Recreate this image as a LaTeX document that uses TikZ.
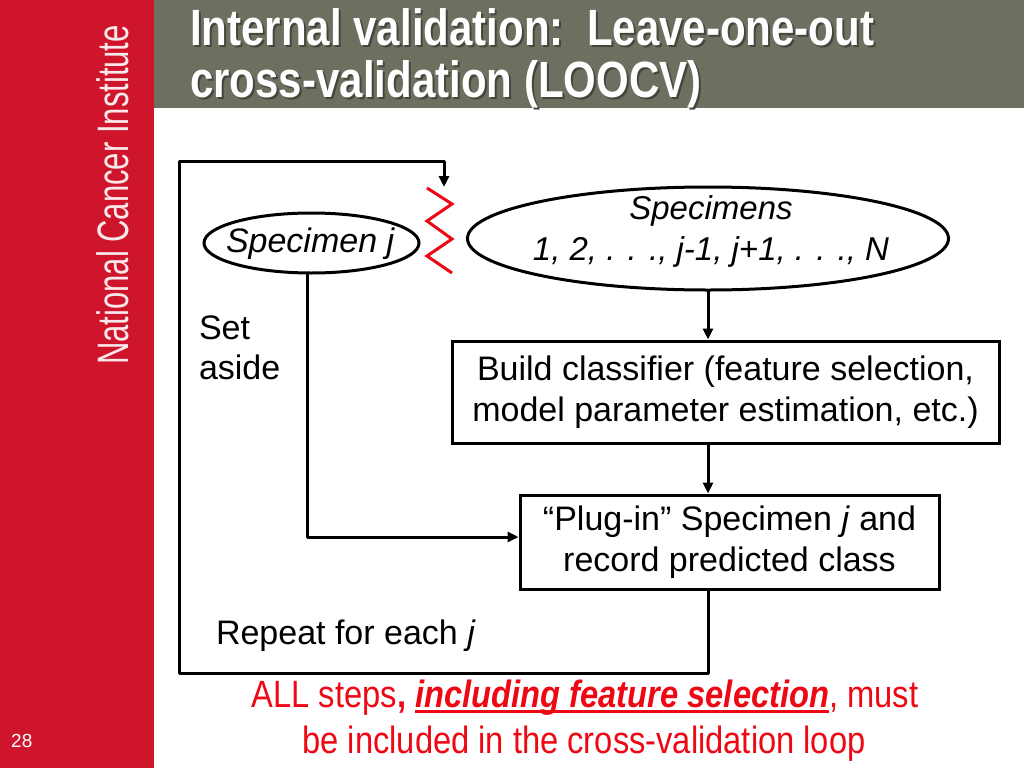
\documentclass[tikz,border=0pt]{standalone}
\usepackage{fontspec}
\setmainfont{Liberation Sans}
\usetikzlibrary{shapes.geometric,arrows.meta}
\definecolor{ncired}{HTML}{CE152C}
\definecolor{titlegray}{HTML}{6E6F60}
\definecolor{shadowgray}{HTML}{45463B}
\definecolor{redtext}{HTML}{EE0814}
\newcommand{\fsz}[2]{\fontsize{#1}{#2}\selectfont}
\newlength{\ulwd}
\newcommand{\thickul}[1]{\settowidth{\ulwd}{#1}\rlap{\rule[-6pt]{\ulwd}{3pt}}#1}
\tikzset{
  x=1pt,y=-1pt,
  line/.style={black,line width=3pt,line cap=round,line join=round},
  arrowline/.style={line,-{Triangle[length=11pt,width=10pt]}},
  oval/.style={ellipse,draw=black,line width=3pt,inner sep=0pt,fill=white},
  box/.style={rectangle,draw=black,line width=3pt,inner sep=0pt,fill=white,align=center,font=\fsz{34}{41}},
  plain/.style={inner sep=0pt,outer sep=0pt,font=\fsz{34}{40},align=left},
  titletext/.style={inner sep=0pt,anchor=west,align=left,font=\fsz{51}{52}\bfseries,xscale=0.824,transform shape},
  redline/.style={inner sep=0pt,anchor=base,text=redtext,font=\fsz{38}{44},xscale=0.86,transform shape},
}
\begin{document}
\begin{tikzpicture}
\useasboundingbox (0,0) rectangle (1024,768);
\fill[white] (0,0) rectangle (1024,768);
\fill[ncired] (0,0) rectangle (154,768);
\fill[titlegray] (154,0) rectangle (1024,108);
\node[titletext,text=shadowgray] (titleshadow) at (192,60) {Internal validation:\ \ Leave-one-out\\cross-validation (LOOCV)};
\node[titletext,text=white] (title) at (190,58) {Internal validation:\ \ Leave-one-out\\cross-validation (LOOCV)};
\node[inner sep=0pt,text=white!90!ncired,rotate=90,font=\fsz{44}{44},xscale=0.705,transform shape] (nci) at (113,195) {National Cancer Institute};
\node[inner sep=0pt,text=white,font=\fsz{19}{19},anchor=base west] (page) at (11,747) {28};

\node[oval,minimum width=215pt,minimum height=60pt] (spj) at (311.5,243) {};
\node[plain,anchor=base west,font=\fsz{34}{40}\itshape] (spjtext) at (226,252) {Specimen j};
\node[oval,minimum width=481pt,minimum height=103pt] (sps) at (708,238.5) {};
\node[inner sep=0pt,align=center,font=\fsz{33}{41}\itshape] (spstext) at (711,231) {Specimens\\1, 2, . . ., j-1, j+1, . . ., N};
\node[box,minimum width=547pt,minimum height=102pt] (build) at (725.5,392) {Build classifier (feature selection,\\model parameter estimation, etc.)};
\node[box,minimum width=419pt,minimum height=94pt] (plug) at (729.5,542) {“Plug-in” Specimen \textit{j} and\\record predicted class};
\node[plain,anchor=north west] (aside) at (199,316) {Set\\aside};
\node[plain,anchor=base west] (repeat) at (216,644) {Repeat for each \textit{j}};

\coordinate (loopend) at (444,187);
\coordinate (loopbl) at (179,673);
\coordinate (looptl) at (179,161);
\coordinate (looptr) at (444,161);
\coordinate (loopbr) at (708,673);
\coordinate (spjturn) at (307,537);

\draw[arrowline] (sps.south) -- (build.north -| sps.south);
\draw[arrowline] (build.south -| sps.south) -- (plug.north -| sps.south);
\draw[arrowline] (spj.south -| spjturn) -- (spjturn) -- (plug.west |- spjturn);
\draw[arrowline] (plug.south -| loopbr) -- (loopbr) -- (loopbl) -- (looptl) -- (looptr) -- (loopend);

\draw[redtext,line width=3pt,line join=miter] (427,188) -- (452,204) -- (427,221) -- (452,239) -- (427,256) -- (452,273);

\node[redline] (red1) at (585,707) {ALL steps\textbf{, \textit{\thickul{including feature selection}}}, must};
\node[redline] (red2) at (584,753) {be included in the cross-validation loop};
\end{tikzpicture}
\end{document}
